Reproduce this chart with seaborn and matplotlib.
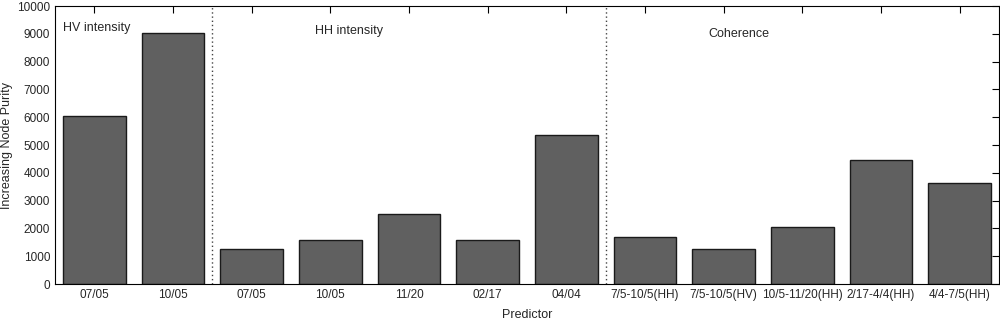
import pandas as pd
import numpy as np
import matplotlib
matplotlib.use("Agg")
import matplotlib.pyplot as plt
import seaborn as sns

# predictor labels and importance values
labels = ['07/05', '10/05', '07/05', '10/05', '11/20', '02/17', '04/04',
          '7/5-10/5(HH)', '7/5-10/5(HV)', '10/5-11/20(HH)', '2/17-4/4(HH)', '4/4-7/5(HH)']
groups = ['HV', 'HV', 'HH', 'HH', 'HH', 'HH', 'HH', 'Coh', 'Coh', 'Coh', 'Coh', 'Coh']
purity = [6040, 9030, 1280, 1570, 2530, 1570, 5380, 1700, 1280, 2060, 4470, 3640]
group_titles = ['HV intensity', 'HH intensity', 'Coherence']

df = pd.DataFrame({'key': [f'{g}_{l}' for g, l in zip(groups, labels)],
                   'label': labels, 'purity': purity})

sns.set_style('white')
plt.rcParams['font.family'] = ['Liberation Sans', 'DejaVu Sans']

fig = plt.figure(figsize=(10, 3.21), dpi=100)
ax = fig.add_axes([0.055, 0.115, 0.944, 0.866])

sns.barplot(data=df, x='key', y='purity', color='#606060', saturation=1,
            edgecolor='#1a1a1a', linewidth=1, width=0.8, ax=ax)

ax.set_xticks(range(len(labels)))
ax.set_xticklabels(labels, fontsize=8.5)
ax.set_xlim(-0.5, len(labels) - 0.5)
ax.set_ylim(0, 10000)
ax.set_yticks(range(0, 10001, 1000))
ax.tick_params(axis='y', labelsize=8.5)
ax.tick_params(direction='in', top=True, right=True, length=5, width=0.8, color='black')
ax.tick_params(axis='x', bottom=False)

# group separators
for xs in [1.5, 6.5]:
    ax.axvline(xs, color='#444444', linestyle=(0, (1, 2)), linewidth=1)

ax.text(-0.4, 9200, group_titles[0], fontsize=9, va='center', ha='left')
ax.text(2.8, 9100, group_titles[1], fontsize=9, va='center', ha='left')
ax.text(7.8, 9000, group_titles[2], fontsize=9, va='center', ha='left')

ax.set_xlabel('Predictor', fontsize=9, labelpad=6)
ax.set_ylabel('Increasing Node Purity', fontsize=9)
ax.yaxis.set_label_coords(-0.044, 0.5)
for s in ax.spines.values():
    s.set_color('black')
    s.set_linewidth(0.8)

fig.savefig('out.png', dpi=100)
